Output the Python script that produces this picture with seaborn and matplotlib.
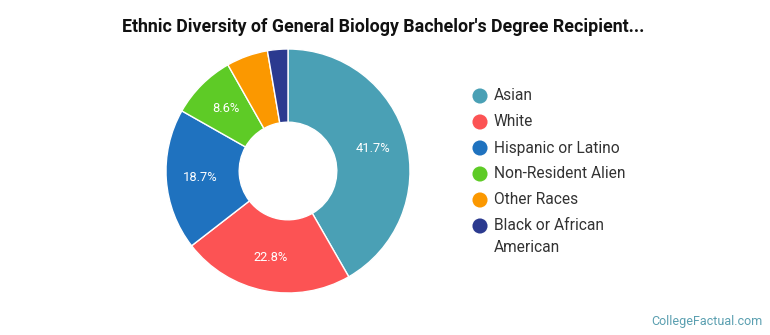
import matplotlib
matplotlib.use("Agg")
import matplotlib.pyplot as plt
import seaborn as sns

categories = ["Asian", "White", "Hispanic or Latino", "Non-Resident Alien",
              "Other Races", "Black or African American"]
legend_labels = ["Asian", "White", "Hispanic or Latino", "Non-Resident Alien",
                 "Other Races", "Black or African\nAmerican"]
values = [41.7, 22.8, 18.7, 8.6, 5.5, 2.7]
colors = ["#4aa0b5", "#fc5354", "#1f72bf", "#5ecb26", "#fb9800", "#2b3a8f"]

sns.set_theme(style="white")
plt.rcParams['font.family'] = ['Roboto', 'DejaVu Sans']

W, H = 770, 335
fig = plt.figure(figsize=(W / 100, H / 100), dpi=100)
cx, cy, R = 288, 171, 122
ax = fig.add_axes([(cx - R) / W, (H - cy - R) / H, 2 * R / W, 2 * R / H])

def fmt(p):
    return f"{p:.1f}%" if p >= 8 else ""

wedges, texts, autotexts = ax.pie(
    values, colors=colors, startangle=90, counterclock=False,
    radius=1.0, autopct=fmt, pctdistance=0.72,
    wedgeprops=dict(width=0.6, edgecolor="white", linewidth=1.0),
    textprops=dict(color="white", fontsize=9.3))
ax.set_xlim(-1, 1)
ax.set_ylim(-1, 1)
ax.set_aspect("equal")
ax.axis("off")

# legend drawn in a pixel-coordinate overlay
lax = fig.add_axes([0, 0, 1, 1])
lax.set_xlim(0, W)
lax.set_ylim(H, 0)
lax.axis("off")
row_y0, row_dy, line_dy = 96, 26, 21
for i, (lab, c) in enumerate(zip(legend_labels, colors)):
    y = row_y0 + i * row_dy
    lax.scatter([480], [y], s=118, color=c, edgecolors="none")
    for j, line in enumerate(lab.split("\n")):
        lax.text(494, y + j * line_dy, line, ha="left", va="center",
                 fontsize=11.2, color="#333333")

fig.text(383 / W, 1 - 27 / H, "Ethnic Diversity of General Biology Bachelor's Degree Recipient...",
         ha="center", va="center", fontsize=12.8, fontweight="bold", color="#111111")
fig.text(763 / W, 1 - 321 / H, "CollegeFactual.com", ha="right", va="center",
         fontsize=9, color="#5a9fb0")

fig.savefig("out.png", dpi=100)
